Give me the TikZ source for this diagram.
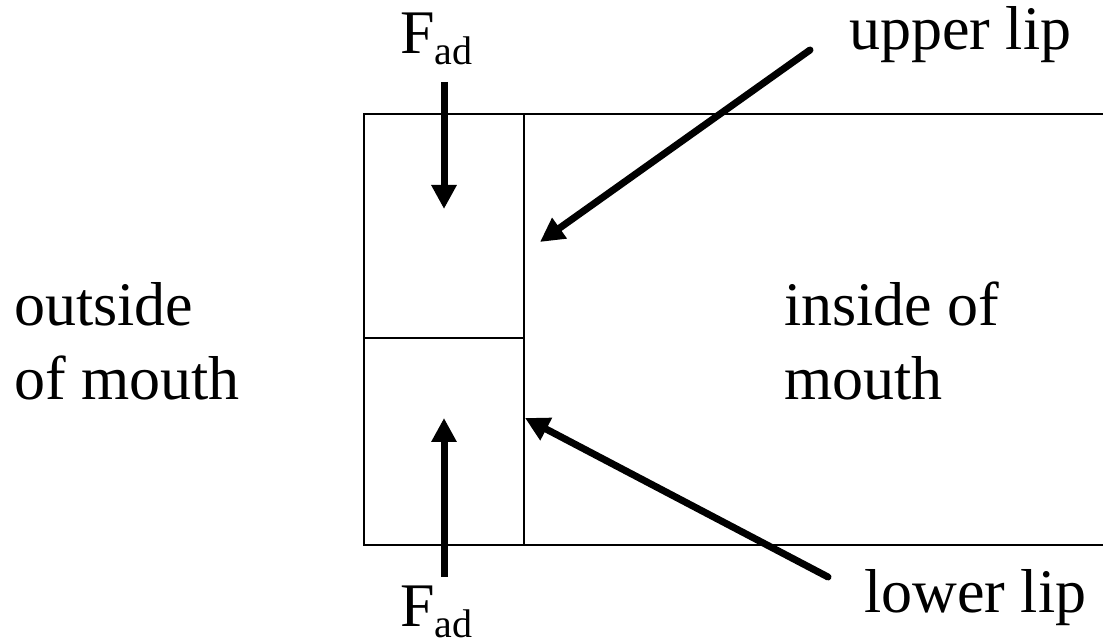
\documentclass[tikz,border=0pt]{standalone}
\usepackage{fontspec}
\setmainfont{Liberation Serif}
\usetikzlibrary{arrows.meta}
\tikzset{
  lbl/.style={anchor=base west, inner sep=0pt, font=\fontsize{62}{73}\selectfont},
  boxline/.style={line width=1.5pt},
  force/.style={line width=7pt, -{Triangle[length=24pt,width=24pt]}},
  pointer/.style={line width=7pt, line cap=round, -{Triangle[length=24pt,width=24pt]}},
}
\newcommand{\fad}{F\raisebox{-11pt}{\fontsize{40}{40}\selectfont ad}}
\begin{document}
\begin{tikzpicture}[x=1pt,y=1pt]
\useasboundingbox (0,0) rectangle (1103,642);
% box
\draw[boxline] (1103,528) -- (364,528) -- (364,97) -- (1103,97);
\draw[boxline] (524,528) -- (524,97);
\draw[boxline] (364,304) -- (524,304);
% labels
\node[lbl] (out1) at (14,316) {outside};
\node[lbl] (out2) at (14,242) {of mouth};
\node[lbl] (in1) at (784,316) {inside of};
\node[lbl] (in2) at (784,242) {mouth};
\node[lbl] (ul) at (849,592) {upper lip};
\node[lbl] (ll) at (864,29) {lower lip};
\node[lbl] (ftop) at (400,588) {\fad};
\node[lbl] (fbot) at (400,15) {\fad};
% arrow endpoints
\coordinate (fts) at (444,560);
\coordinate (ftt) at (444,433);
\coordinate (fbs) at (444,65);
\coordinate (fbt) at (444,224);
\coordinate (uls) at (810,592);
\coordinate (ult) at (540,400);
\coordinate (lls) at (828,65);
\coordinate (llt) at (525,224);
\draw[force] (fts) -- (ftt);
\draw[force] (fbs) -- (fbt);
\draw[pointer] (uls) -- (ult);
\draw[pointer] (lls) -- (llt);
\end{tikzpicture}
\end{document}
